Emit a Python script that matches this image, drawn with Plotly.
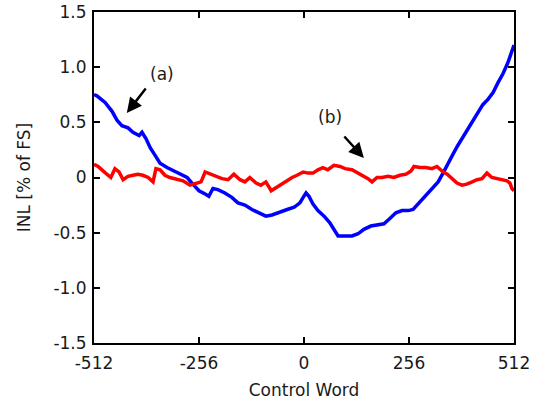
import plotly.graph_objects as go

# Curve (a) - blue
a_x = [-512, -505, -485, -468, -456, -444, -429, -417, -402, -395, -385, -375, -363, -351,
       -334, -319, -302, -285, -271, -256, -241, -232, -222, -210, -193, -176, -161, -144,
       -127, -110, -93, -78, -59, -41, -24, -10, -2, 5, 12, 22, 34, 49, 63, 76, 83, 100,
       117, 132, 146, 163, 180, 195, 210, 224, 239, 254, 266, 278, 290, 302, 314, 327, 339,
       351, 363, 375, 388, 400, 412, 424, 436, 449, 461, 473, 485, 497, 507, 512]
a_y = [0.75, 0.74, 0.68, 0.60, 0.52, 0.47, 0.45, 0.41, 0.38, 0.41, 0.35, 0.27, 0.20, 0.13,
       0.09, 0.06, 0.03, 0.00, -0.06, -0.12, -0.15, -0.17, -0.10, -0.11, -0.14, -0.18, -0.23, -0.25,
       -0.29, -0.32, -0.35, -0.34, -0.31, -0.29, -0.27, -0.23, -0.18, -0.14, -0.17, -0.24, -0.30, -0.35, -0.41, -0.48, -0.53, -0.53,
       -0.53, -0.51, -0.47, -0.44, -0.43, -0.42, -0.37, -0.32, -0.30, -0.30, -0.29, -0.24, -0.19, -0.14, -0.09, -0.04, 0.04,
       0.13, 0.21, 0.29, 0.37, 0.45, 0.52, 0.59, 0.66, 0.71, 0.77, 0.86, 0.94, 1.04, 1.14, 1.20]

# Curve (b) - red
b_x = [-512, -502, -490, -478, -471, -461, -451, -441, -429, -417, -405, -393, -380, -368,
       -361, -351, -339, -327, -310, -295, -278, -263, -251, -241, -229, -215, -200, -185,
       -171, -156, -144, -132, -117, -105, -93, -80, -68, -56, -44, -29, -17, -2, 10, 22,
       34, 46, 58, 73, 88, 100, 117, 132, 144, 156, 166, 178, 190, 205, 219, 234, 249, 261,
       268, 283, 297, 312, 324, 336, 349, 361, 373, 385, 397, 410, 422, 434, 446, 458, 471,
       483, 495, 502, 507, 512]
b_y = [0.12, 0.10, 0.06, 0.02, 0.00, 0.08, 0.05, -0.02, 0.01, 0.02, 0.03, 0.02, 0.00, -0.04,
       0.08, 0.07, 0.02, 0.00, -0.02, -0.03, -0.07, -0.05, -0.04, 0.05, 0.03, 0.01, -0.01, -0.02,
       0.03, -0.02, -0.04, 0.00, -0.05, -0.07, -0.04, -0.12, -0.09, -0.06, -0.03, 0.00, 0.02, 0.05, 0.04, 0.04,
       0.07, 0.09, 0.07, 0.11, 0.10, 0.08, 0.07, 0.04, 0.02, -0.01, -0.04, 0.00, 0.00, 0.01, 0.00, 0.02, 0.03, 0.06,
       0.10, 0.09, 0.09, 0.08, 0.10, 0.06, 0.03, -0.01, -0.05, -0.07, -0.06, -0.04, -0.02, -0.01, 0.04, 0.00, -0.01,
       -0.02, -0.03, -0.05, -0.10, -0.12]

x_ticks = [-512, -256, 0, 256, 512]
x_ticktext = ["-512", "-256", "0", "256", "512"]
y_ticks = [-1.5, -1.0, -0.5, 0, 0.5, 1.0, 1.5]
y_ticktext = ["-1.5", "-1.0", "-0.5", "0", "0.5", "1.0", "1.5"]

font_family = "DejaVu Sans, Liberation Sans, Arial, sans-serif"
txt = "#1a1a1a"

fig = go.Figure()
fig.add_trace(go.Scatter(x=a_x, y=a_y, mode="lines",
                         line=dict(color="#0000FF", width=3.5), showlegend=False))
fig.add_trace(go.Scatter(x=b_x, y=b_y, mode="lines",
                         line=dict(color="#FF0000", width=3.5), showlegend=False))

axis_common = dict(showgrid=False, zeroline=False, showline=True, linecolor="black",
                   linewidth=2, mirror="ticks", ticks="inside", ticklen=6, tickwidth=2,
                   tickcolor="black", tickfont=dict(family=font_family, size=17, color=txt),
                   automargin=False)

fig.update_xaxes(range=[-512, 512], tickvals=x_ticks, ticktext=x_ticktext,
                 ticklabelstandoff=4,
                 title=dict(text="Control Word", font=dict(family=font_family, size=17, color=txt),
                            standoff=12),
                 **axis_common)
fig.update_yaxes(range=[-1.5, 1.5], tickvals=y_ticks, ticktext=y_ticktext,
                 ticklabelstandoff=2,
                 title=dict(text="INL [% of FS]", font=dict(family=font_family, size=17, color=txt),
                            standoff=18),
                 **axis_common)

# Arrows and labels
fig.add_annotation(x=-432, y=0.585, ax=-383, ay=0.82, axref="x", ayref="y",
                   text="", showarrow=True, arrowhead=2, arrowsize=1.2, arrowwidth=2.5,
                   arrowcolor="black")
fig.add_annotation(x=-346, y=0.94, text="(a)", showarrow=False,
                   font=dict(family=font_family, size=17, color=txt))
fig.add_annotation(x=146, y=0.177, ax=95, ay=0.385, axref="x", ayref="y",
                   text="", showarrow=True, arrowhead=2, arrowsize=1.2, arrowwidth=2.5,
                   arrowcolor="black")
fig.add_annotation(x=63, y=0.55, text="(b)", showarrow=False,
                   font=dict(family=font_family, size=17, color=txt))

fig.update_layout(width=534, height=405, margin=dict(l=94, r=20, t=12, b=62),
                  plot_bgcolor="white", paper_bgcolor="white",
                  font=dict(family=font_family))

fig.write_html("out.html")
